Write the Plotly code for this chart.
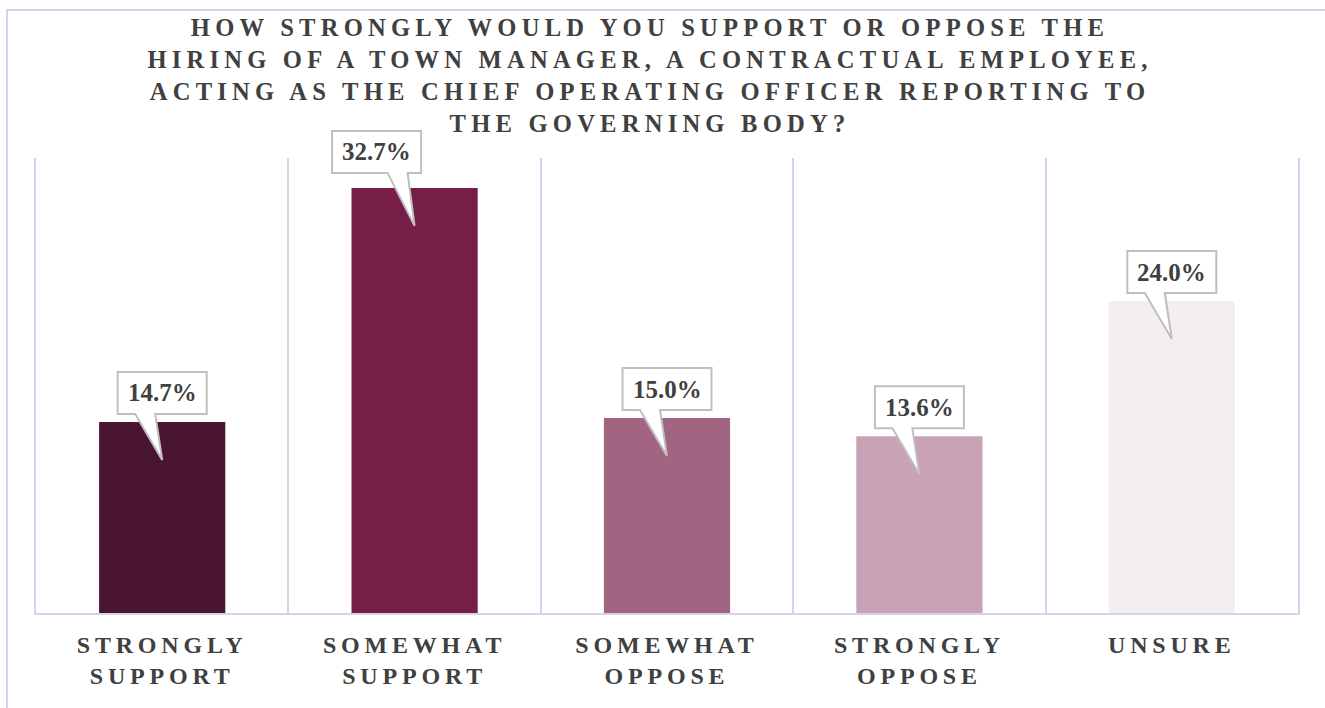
import plotly.graph_objects as go

# Survey responses
categories = ["STRONGLY<br>SUPPORT", "SOMEWHAT<br>SUPPORT", "SOMEWHAT<br>OPPOSE",
              "STRONGLY<br>OPPOSE", "UNSURE"]
values = [14.7, 32.7, 15.0, 13.6, 24.0]
bar_colors = ["#4A1531", "#771E48", "#A16581", "#C9A2B6", "#F4EEF2"]

title_text = ("HOW STRONGLY WOULD YOU SUPPORT OR OPPOSE THE<br>"
              "HIRING OF A TOWN MANAGER, A CONTRACTUAL EMPLOYEE,<br>"
              "ACTING AS THE CHIEF OPERATING OFFICER REPORTING TO<br>"
              "THE GOVERNING BODY?")

Y_MAX = 35

# Callout box placement (pixels, relative to the top-centre of each bar)
callout_dx = [0, -38, 0, 0, 0]
callout_gap = [8, 15, 8, 8, 8]
BOX_W, BOX_H = 89, 42
TAIL_L, TAIL_R, TAIL_DEPTH = -27, -7, 38

GRID = "#D5D1EE"
TEXT = "#404040"
SERIF = "Liberation Serif"

W, H = 1325, 708
M_L, M_R, M_T, M_B = 36, 27, 158, 95

n = len(categories)
x_pos = list(range(n))

fig = go.Figure()
fig.add_trace(go.Bar(
    x=x_pos, y=values, width=0.5,
    marker=dict(color=bar_colors, line=dict(width=0)),
    hoverinfo="skip",
))

shapes = []
annotations = []
for i, v in enumerate(values):
    dx, gap = callout_dx[i], callout_gap[i]
    left, right = dx - BOX_W / 2, dx + BOX_W / 2
    bottom, top = gap, gap + BOX_H
    path = (f"M {left},{bottom} L {TAIL_L},{bottom} L 0,{-TAIL_DEPTH} "
            f"L {TAIL_R},{bottom} L {right},{bottom} L {right},{top} "
            f"L {left},{top} Z")
    # anchored in axis-domain fractions so the callout may rise above the plot area
    shapes.append(dict(
        type="path", xref="x domain", yref="y domain",
        xsizemode="pixel", ysizemode="pixel",
        xanchor=(i + 0.5) / n, yanchor=v / Y_MAX, path=path,
        fillcolor="white", line=dict(color="#BFBFBF", width=2),
        layer="above",
    ))
    annotations.append(dict(
        x=i, y=v, xref="x", yref="y", showarrow=False,
        text=f"<b>{v:.1f}%</b>",
        xshift=dx, yshift=gap + BOX_H / 2,
        font=dict(family=SERIF, size=25, color=TEXT),
    ))

# Outer frame of the chart
plot_w, plot_h = W - M_L - M_R, H - M_T - M_B
shapes.append(dict(
    type="rect", xref="paper", yref="paper",
    x0=(7 - M_L) / plot_w, x1=1.2, y0=-0.5, y1=(H - M_B - 10) / plot_h,
    line=dict(color=GRID, width=2), fillcolor="rgba(0,0,0,0)", layer="below",
))

fig.update_layout(
    width=W, height=H,
    margin=dict(l=M_L, r=M_R, t=M_T, b=M_B),
    paper_bgcolor="white", plot_bgcolor="white",
    showlegend=False,
    title=dict(
        text=f"<b>{title_text}</b>",
        x=650 / W, xref="container", xanchor="center",
        y=1 - 36 / H, yref="container", yanchor="top",
        font=dict(family=SERIF, size=24.6, color=TEXT),
    ),
    xaxis=dict(
        range=[-0.5, n - 0.5],
        tickmode="array", tickvals=x_pos,
        ticktext=[f"<b>{c}</b>" for c in categories],
        tickfont=dict(family=SERIF, size=24, color=TEXT),
        ticks="", ticklabelstandoff=9,
        showgrid=False, zeroline=False,
        showline=True, linecolor=GRID, linewidth=2,
        minor=dict(tickmode="array",
                   tickvals=[i + 0.5 for i in x_pos[:-1]],
                   showgrid=True, gridcolor=GRID, gridwidth=2, ticks=""),
        fixedrange=True,
    ),
    yaxis=dict(
        range=[0, Y_MAX], showticklabels=False, showgrid=False, zeroline=False,
        showline=True, mirror=True, linecolor=GRID, linewidth=2,
        fixedrange=True,
    ),
    shapes=shapes,
    annotations=annotations,
)

# Widen the tracking of the heading and category labels
spacing_js = """
var gd = document.getElementsByClassName('plotly-graph-div')[0];
gd.querySelectorAll('.gtitle').forEach(function(t){ t.style.letterSpacing = '5.2px'; });
gd.querySelectorAll('.xtick text').forEach(function(t){ t.style.letterSpacing = '4.8px'; });
"""

fig.write_html("out.html", post_script=spacing_js, config={"displayModeBar": False})
